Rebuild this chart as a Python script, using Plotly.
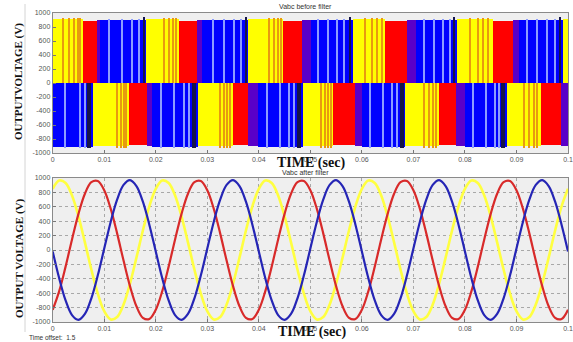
import plotly.graph_objects as go

# ---------------- data ----------------
# Top panel (Vabc before filter): colour blocks of the switched waveform
top_edges = [0, 0.0059, 0.0085, 0.0092, 0.0181, 0.0245, 0.0280, 0.0290, 0.0379,
             0.0446, 0.0483, 0.0500, 0.0582, 0.0644, 0.0686, 0.0705, 0.0784,
             0.0853, 0.0892, 0.0905, 0.0989, 0.1]
top_phase = ["Y", "R", "P", "B", "Y", "R", "P", "B", "Y", "R", "P", "B",
             "Y", "R", "P", "B", "Y", "R", "P", "B", "Y"]
bot_edges = [0, 0.0078, 0.0147, 0.0182, 0.0193, 0.0281, 0.0350, 0.0378, 0.0398,
             0.0485, 0.0543, 0.0586, 0.0600, 0.0684, 0.0750, 0.0783, 0.0800,
             0.0881, 0.0947, 0.0986, 0.1]
bot_phase = ["B", "Y", "R", "P", "B", "Y", "R", "P", "B", "Y", "R", "P",
             "B", "Y", "R", "P", "B", "Y", "R", "P"]
top_level = {"Y": 915, "R": 885, "P": 900, "B": 895}
bot_level = {"Y": -905, "R": -890, "P": -905, "B": -915}

# thin switching stripes
top_orange = [0.0019, 0.0032, 0.0041, 0.0048, 0.0053, 0.0215, 0.0225, 0.0233, 0.0240,
              0.0420, 0.0430, 0.0437, 0.0442, 0.0605, 0.0620, 0.0630, 0.0638,
              0.0810, 0.0825, 0.0835, 0.0845]
top_light = [0.0109, 0.0134, 0.0153, 0.0168, 0.0310, 0.0333, 0.0352, 0.0366,
             0.0515, 0.0535, 0.0552, 0.0566, 0.0720, 0.0740, 0.0758, 0.0770,
             0.0920, 0.0940, 0.0960, 0.0975]
top_navy = [0.0176, 0.0374, 0.0576, 0.0779, 0.0984]
bot_orange = [0.0125, 0.0132, 0.0138, 0.0143, 0.0325, 0.0332, 0.0338, 0.0344,
              0.0520, 0.0528, 0.0534, 0.0539, 0.0720, 0.0730, 0.0737, 0.0744,
              0.0915, 0.0925, 0.0933, 0.0940]
bot_light = [0.0024, 0.0053, 0.0063, 0.0210, 0.0235, 0.0255, 0.0265,
             0.0415, 0.0440, 0.0458, 0.0468, 0.0615, 0.0640, 0.0658, 0.0668,
             0.0815, 0.0840, 0.0858, 0.0866]
bot_navy = [0.0069, 0.0072, 0.0272, 0.0276, 0.0475, 0.0479, 0.0675, 0.0679,
            0.0872, 0.0876]

# Bottom panel (Vabc after filter): sampled every 1.25 ms
t_filt = [round(i * 0.00125, 5) for i in range(81)]
va_filt = [850, 964, 931, 757, 467, 106, -271, -606, -850, -964, -931, -757, -467, -106, 271, 606,
           850, 964, 931, 757, 467, 106, -271, -606, -850, -964, -931, -757, -467, -106, 271, 606,
           850, 964, 931, 757, 467, 106, -271, -606, -850, -964, -931, -757, -467, -106, 271, 606,
           850, 964, 931, 757, 467, 106, -271, -606, -850, -964, -931, -757, -467, -106, 271, 606,
           850, 964, 931, 757, 467, 106, -271, -606, -850, -964, -931, -757, -467, -106, 271, 606,
           850]
vb_filt = [-830, -574, -231, 147, 502, 782, 942, 959, 830, 574, 231, -147, -502, -782, -942, -959,
           -830, -574, -231, 147, 502, 782, 942, 959, 830, 574, 231, -147, -502, -782, -942, -959,
           -830, -574, -231, 147, 502, 782, 942, 959, 830, 574, 231, -147, -502, -782, -942, -959,
           -830, -574, -231, 147, 502, 782, 942, 959, 830, 574, 231, -147, -502, -782, -942, -959,
           -830, -574, -231, 147, 502, 782, 942, 959, 830, 574, 231, -147, -502, -782, -942, -959,
           -830]
vc_filt = [-20, -390, -700, -904, -970, -888, -671, -352, 20, 390, 700, 904, 970, 888, 671, 352,
           -20, -390, -700, -904, -970, -888, -671, -352, 20, 390, 700, 904, 970, 888, 671, 352,
           -20, -390, -700, -904, -970, -888, -671, -352, 20, 390, 700, 904, 970, 888, 671, 352,
           -20, -390, -700, -904, -970, -888, -671, -352, 20, 390, 700, 904, 970, 888, 671, 352,
           -20, -390, -700, -904, -970, -888, -671, -352, 20, 390, 700, 904, 970, 888, 671, 352,
           -20]

x_ticks = [0, 0.01, 0.02, 0.03, 0.04, 0.05, 0.06, 0.07, 0.08, 0.09, 0.1]
x_labels = ["0", "0.01", "0.02", "0.03", "0.04", "0.05", "0.06", "0.07", "0.08", "0.09", "0.1"]
y_ticks = [1000, 800, 600, 400, 200, 0, -200, -400, -600, -800, -1000]
y_labels = ["1000", "800", "600", "400", "200", "0", "-200", "-400", "-600", "-800", "-1000"]

# ---------------- styling ----------------
COL = {"Y": "#ffff00", "R": "#ff0000", "P": "#5a00c8", "B": "#0000ff"}
W, H = 573, 342

fig = go.Figure()


def blocks(edges, phases, levels):
    xs = [(edges[i] + edges[i + 1]) / 2 for i in range(len(phases))]
    ws = [edges[i + 1] - edges[i] for i in range(len(phases))]
    ys = [levels[p] for p in phases]
    cs = [COL[p] for p in phases]
    fig.add_trace(go.Bar(x=xs, y=ys, width=ws, base=0, marker_color=cs,
                         marker_line_width=0, xaxis="x", yaxis="y",
                         showlegend=False, hoverinfo="skip"))


def stripes(ts, level, color, width=0.00028):
    fig.add_trace(go.Bar(x=ts, y=[level] * len(ts), width=width, base=0,
                         marker_color=color, marker_line_width=0,
                         xaxis="x", yaxis="y", showlegend=False, hoverinfo="skip"))


blocks(top_edges, top_phase, top_level)
blocks(bot_edges, bot_phase, bot_level)
stripes(top_orange, 935, "#e89a10")
stripes(top_light, 915, "#8c9cff")
stripes(top_navy, 945, "#15154a", 0.0004)
stripes(bot_orange, -930, "#e89a10")
stripes(bot_light, -925, "#8c9cff")
stripes(bot_navy, -935, "#15154a")

fig.add_trace(go.Scatter(x=t_filt, y=va_filt, mode="lines", line=dict(color="#ffff40", width=2.6, shape="spline"),
                         xaxis="x2", yaxis="y2", showlegend=False))
fig.add_trace(go.Scatter(x=t_filt, y=vb_filt, mode="lines", line=dict(color="#d82a2a", width=2.2, shape="spline"),
                         xaxis="x2", yaxis="y2", showlegend=False))
fig.add_trace(go.Scatter(x=t_filt, y=vc_filt, mode="lines", line=dict(color="#2525b5", width=2.2, shape="spline"),
                         xaxis="x2", yaxis="y2", showlegend=False))

xdom = [52.7 / W, 568 / W]
tick_font = dict(family="Liberation Sans, Arial", size=7, color="#555555")
axis_common = dict(showline=True, linecolor="#8a8a8a", linewidth=1, mirror=True,
                   ticks="inside", ticklen=3, tickcolor="#777777", tickfont=tick_font,
                   zeroline=False, automargin=False)

fig.update_layout(
    width=W, height=H, margin=dict(l=0, r=0, t=0, b=0),
    paper_bgcolor="white", plot_bgcolor="#efefef",
    barmode="overlay", bargap=0,
    xaxis=dict(domain=xdom, range=[0, 0.1], tickvals=x_ticks, ticktext=x_labels,
               showgrid=False, anchor="y", **axis_common),
    yaxis=dict(domain=[1 - 153 / H, 1 - 13 / H], range=[-1000, 1000], tickvals=y_ticks,
               ticktext=y_labels, showgrid=False, anchor="x", **axis_common),
    xaxis2=dict(domain=xdom, range=[0, 0.1], tickvals=x_ticks, ticktext=x_labels,
                showgrid=True, gridcolor="#a8a8a8", griddash="dot", gridwidth=1,
                anchor="y2", **axis_common),
    yaxis2=dict(domain=[1 - 322 / H, 1 - 178 / H], range=[-1000, 1000], tickvals=y_ticks,
                ticktext=y_labels, showgrid=True, gridcolor="#a8a8a8", griddash="dot",
                gridwidth=1, anchor="x2", **axis_common),
)

serif_bold = dict(family="Liberation Serif, Times New Roman, serif", color="#111111")
small = dict(family="Liberation Sans, Arial", size=7, color="#333333")


def note(text, px, py, font, angle=0, xanchor="center"):
    return dict(text=text, x=px / W, y=1 - py / H, xref="paper", yref="paper",
                xanchor=xanchor, yanchor="middle", showarrow=False,
                textangle=angle, font=font)


ann = [
    note("Vabc before filter", 305, 6, small),
    note("Vabc after filter", 305, 172, small),
    note("<b>TIME (sec)</b>", 311, 163, dict(size=14, **serif_bold)),
    note("<b>TIME (sec)</b>", 312, 332, dict(size=14, **serif_bold)),
    note("<b>OUTPUTVOLTAGE (V)</b>", 19, 82, dict(size=11, **serif_bold), angle=-90),
    note("<b>OUTPUT VOLTAGE (V)</b>", 19, 258, dict(size=11, **serif_bold), angle=-90),
    note("Time offset:  1.5", 27, 337, dict(family="Liberation Sans, Arial", size=6.5, color="#333333"),
         xanchor="left"),
]
fig.update_layout(annotations=ann)

fig.add_shape(type="line", xref="paper", yref="paper", x0=25 / W, x1=25 / W, y0=1 - 332 / H, y1=1 - 4 / H,
              line=dict(color="#d4d4d4", width=1))

fig.write_html("out.html", config={"displayModeBar": False},
               post_script="document.body.style.margin='0';document.body.style.overflow='hidden';")
